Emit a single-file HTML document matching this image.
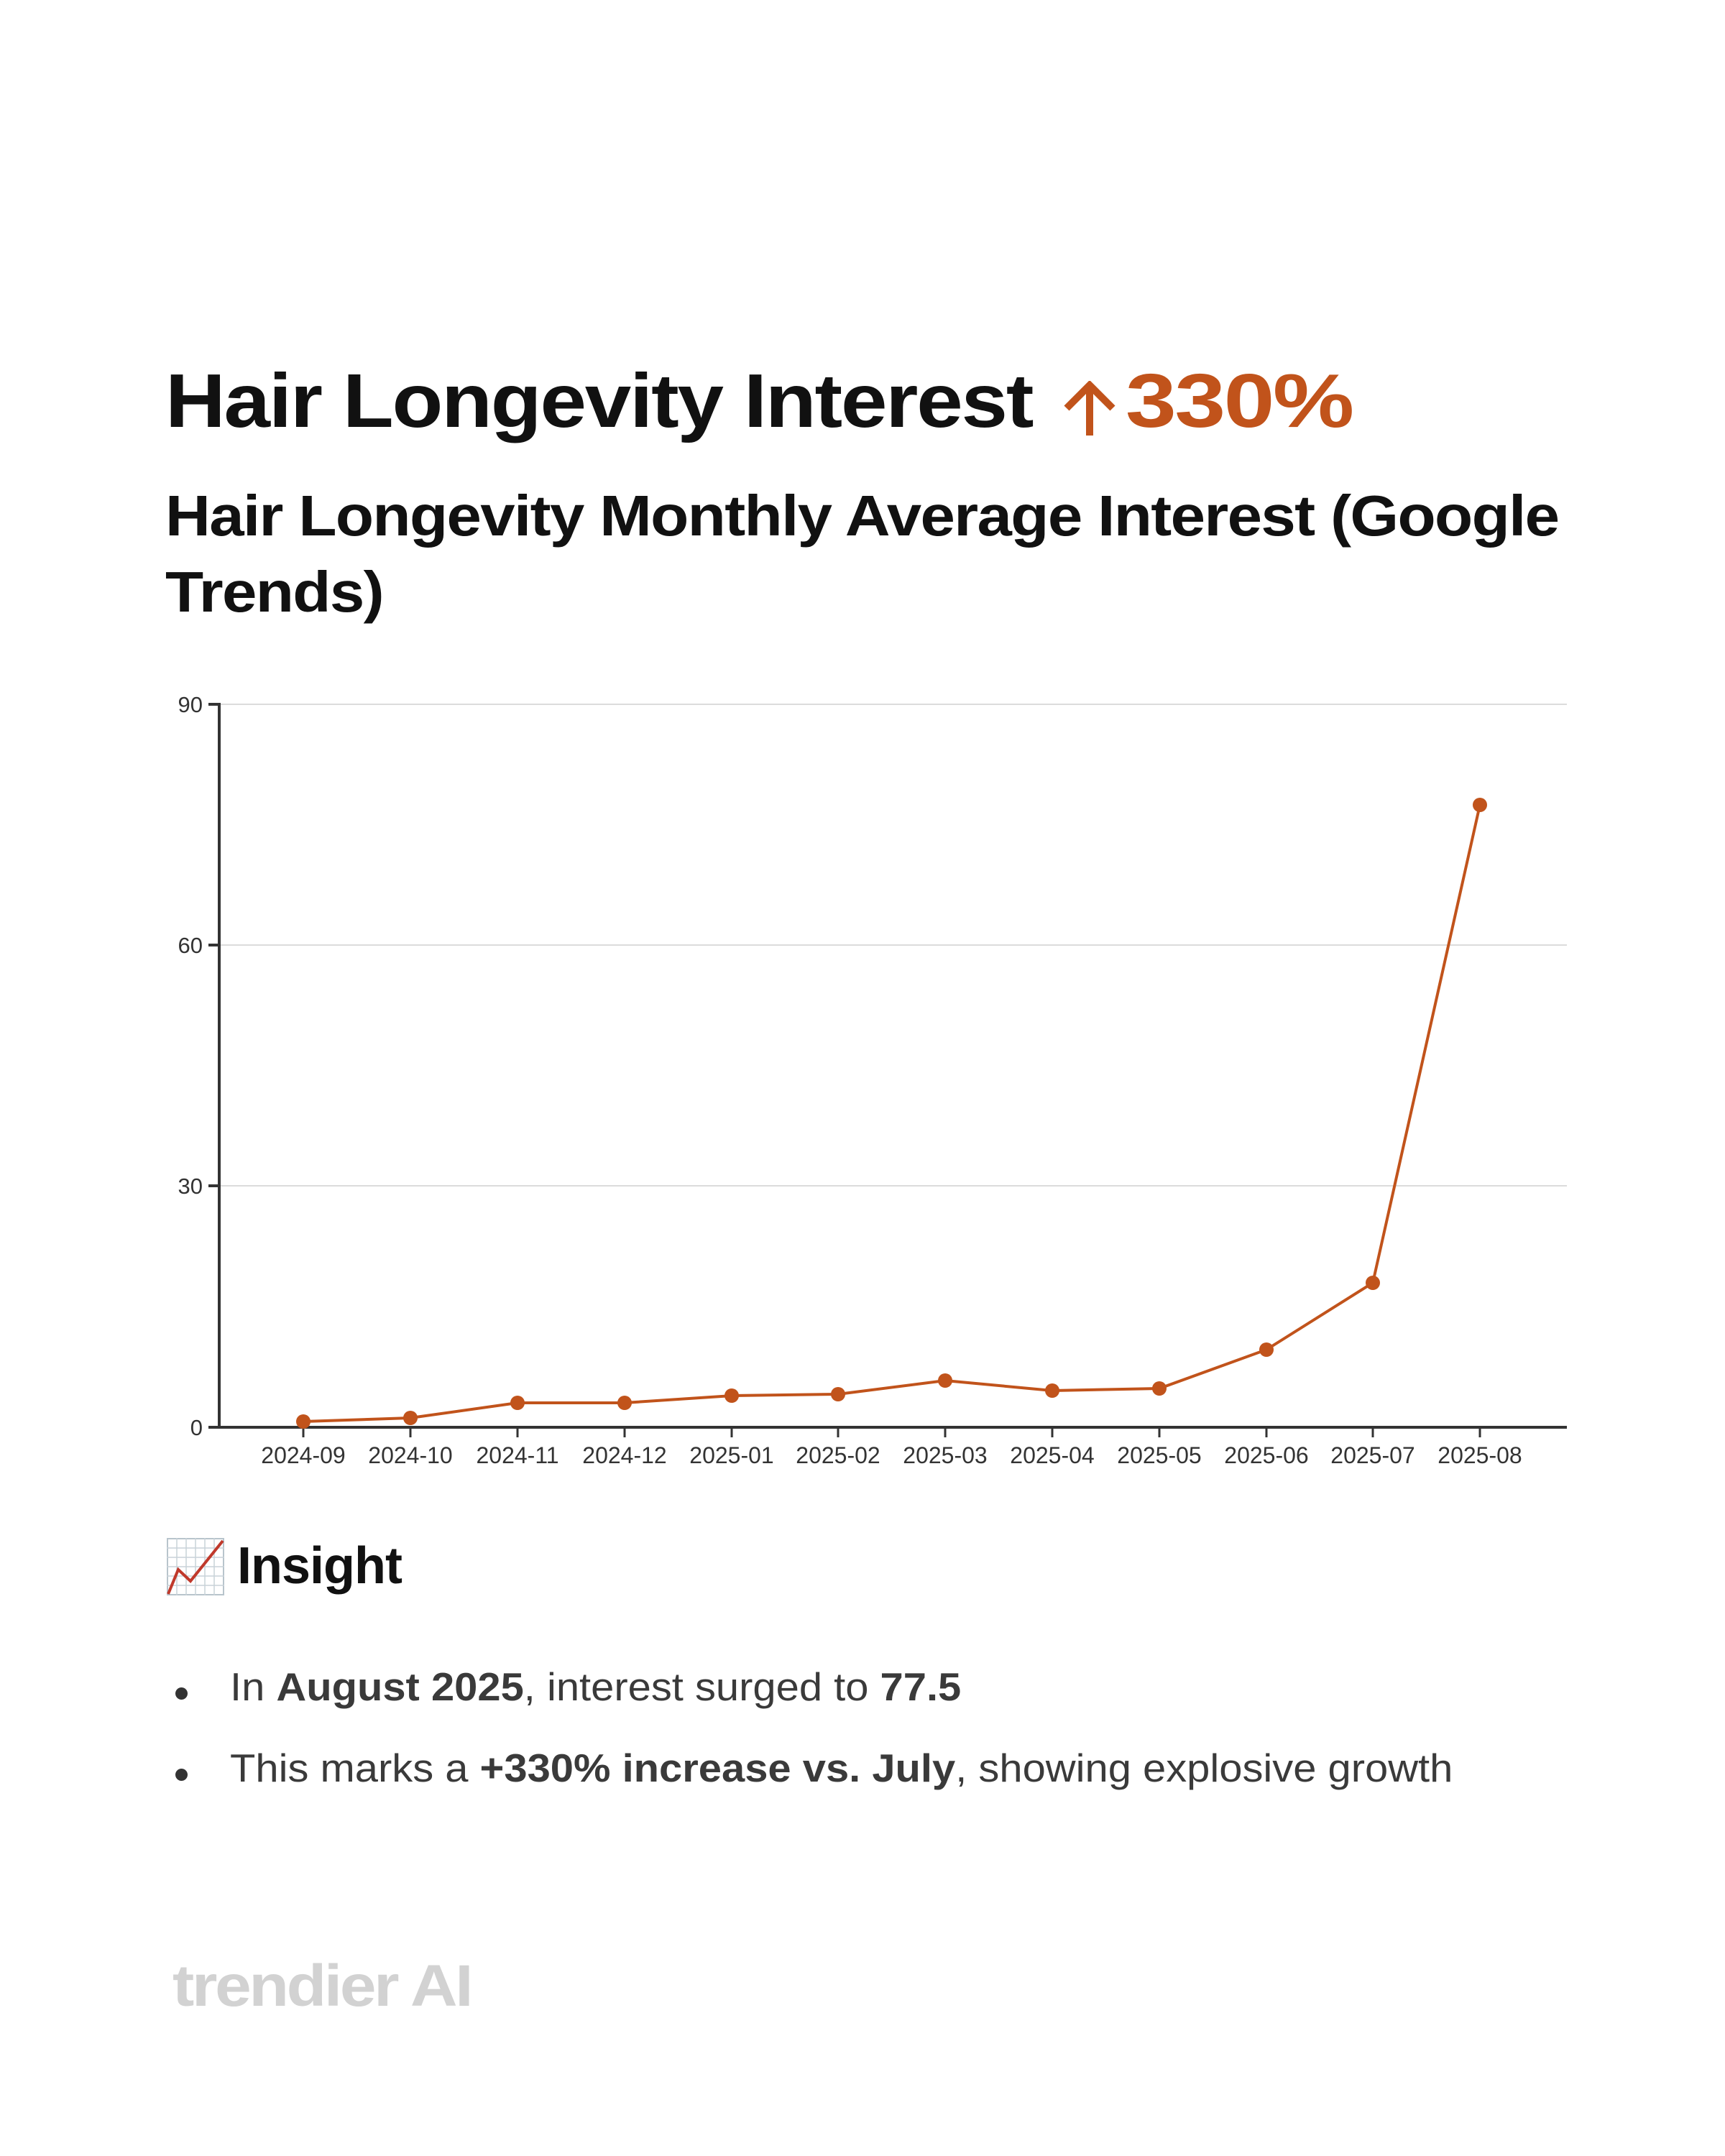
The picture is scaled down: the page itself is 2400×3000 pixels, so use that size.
<!DOCTYPE html>
<html><head><meta charset="utf-8"><style>
body{margin:0;width:2400px;height:3000px;background:#fff;position:relative;font-family:"Liberation Sans",sans-serif;overflow:hidden}
.a{position:absolute;white-space:nowrap;transform-origin:0 0}
</style></head><body>
<div class="a" style="left:230px;top:498px;font-size:106px;font-weight:bold;color:#111;letter-spacing:-2px;transform:scaleX(1.094)">Hair Longevity Interest</div>
<svg class="a" style="left:1474px;top:530px" width="84" height="80" viewBox="0 0 84 80"><path d="M42 6 L42 76 M10 38 L42 6 L74 38" fill="none" stroke="#c1531b" stroke-width="10" stroke-linejoin="miter"/></svg>
<div class="a" style="left:1566px;top:498px;font-size:106px;font-weight:bold;color:#c1531b;letter-spacing:-2px;transform:scaleX(1.2)">330%</div>
<div class="a" style="left:230px;top:665px;font-size:80px;font-weight:bold;color:#111;line-height:106px;letter-spacing:-1.5px;transform:scaleX(1.088)">Hair Longevity Monthly Average Interest (Google<br>Trends)</div>
<svg class="a" style="left:0;top:-5px" width="2400" height="2100" font-family="Liberation Sans, sans-serif">
<g stroke="#dcdcdc" stroke-width="2">
<line x1="305" y1="985" x2="2180" y2="985"/><line x1="305" y1="1320" x2="2180" y2="1320"/><line x1="305" y1="1655" x2="2180" y2="1655"/>
</g>
<g stroke="#333" stroke-width="4">
<line x1="305" y1="983" x2="305" y2="1993"/><line x1="303" y1="1991" x2="2180" y2="1991"/>
<line x1="290" y1="985" x2="305" y2="985"/><line x1="290" y1="1320" x2="305" y2="1320"/><line x1="290" y1="1655" x2="305" y2="1655"/><line x1="290" y1="1991" x2="305" y2="1991"/>
</g>
<g font-size="31" fill="#333" text-anchor="end">
<text x="282" y="996">90</text><text x="282" y="1331">60</text><text x="282" y="1666">30</text><text x="282" y="2002">0</text>
</g>
<g stroke="#333" stroke-width="3">
<line x1="422" y1="1991" x2="422" y2="2005"/><line x1="571" y1="1991" x2="571" y2="2005"/><line x1="720" y1="1991" x2="720" y2="2005"/><line x1="869" y1="1991" x2="869" y2="2005"/><line x1="1018" y1="1991" x2="1018" y2="2005"/><line x1="1166" y1="1991" x2="1166" y2="2005"/><line x1="1315" y1="1991" x2="1315" y2="2005"/><line x1="1464" y1="1991" x2="1464" y2="2005"/><line x1="1613" y1="1991" x2="1613" y2="2005"/><line x1="1762" y1="1991" x2="1762" y2="2005"/><line x1="1910" y1="1991" x2="1910" y2="2005"/><line x1="2059" y1="1991" x2="2059" y2="2005"/>
</g>
<g font-size="32" fill="#333" text-anchor="middle">
<text x="422" y="2041">2024-09</text><text x="571" y="2041">2024-10</text><text x="720" y="2041">2024-11</text><text x="869" y="2041">2024-12</text><text x="1018" y="2041">2025-01</text><text x="1166" y="2041">2025-02</text><text x="1315" y="2041">2025-03</text><text x="1464" y="2041">2025-04</text><text x="1613" y="2041">2025-05</text><text x="1762" y="2041">2025-06</text><text x="1910" y="2041">2025-07</text><text x="2059" y="2041">2025-08</text>
</g>
<polyline fill="none" stroke="#c1531b" stroke-width="4" points="422,1983 571,1978 720,1957 869,1957 1018,1947 1166,1945 1315,1926 1464,1940 1613,1937 1762,1883 1910,1790 2059,1125"/>
<g fill="#c1531b">
<circle cx="422" cy="1983" r="10"/><circle cx="571" cy="1978" r="10"/><circle cx="720" cy="1957" r="10"/><circle cx="869" cy="1957" r="10"/><circle cx="1018" cy="1947" r="10"/><circle cx="1166" cy="1945" r="10"/><circle cx="1315" cy="1926" r="10"/><circle cx="1464" cy="1940" r="10"/><circle cx="1613" cy="1937" r="10"/><circle cx="1762" cy="1883" r="10"/><circle cx="1910" cy="1790" r="10"/><circle cx="2059" cy="1125" r="10"/>
</g>
</svg>
<svg class="a" style="left:232px;top:2140px" width="80" height="80">
<rect x="1" y="1" width="78" height="78" fill="#fff" stroke="#b8c4cc" stroke-width="2"/>
<g stroke="#c8d2d8" stroke-width="1.5">
<line x1="14" y1="0" x2="14" y2="80"/><line x1="27" y1="0" x2="27" y2="80"/><line x1="40" y1="0" x2="40" y2="80"/><line x1="53" y1="0" x2="53" y2="80"/><line x1="66" y1="0" x2="66" y2="80"/>
<line y1="14" x1="0" y2="14" x2="80"/><line y1="27" x1="0" y2="27" x2="80"/><line y1="40" x1="0" y2="40" x2="80"/><line y1="53" x1="0" y2="53" x2="80"/><line y1="66" x1="0" y2="66" x2="80"/>
</g>
<polyline points="2,78 16,44 33,60 78,4" fill="none" stroke="#c0392b" stroke-width="4"/>
</svg>
<div class="a" style="left:330px;top:2138px;font-size:72px;font-weight:bold;color:#111;letter-spacing:-1px">Insight</div>
<div class="a" style="left:244px;top:2348px;width:17px;height:17px;border-radius:50%;background:#333"></div>
<div class="a" style="left:244px;top:2461px;width:17px;height:17px;border-radius:50%;background:#333"></div>
<div class="a" style="left:320px;top:2314px;font-size:55px;color:#3a3a3a;line-height:66px;transform:scaleX(1.053)">In <b>August 2025</b>, interest surged to <b>77.5</b></div>
<div class="a" style="left:320px;top:2427px;font-size:55px;color:#3a3a3a;line-height:66px;transform:scaleX(1.053)">This marks a <b>+330% increase vs. July</b>, showing explosive growth</div>
<div class="a" style="left:240px;top:2717px;font-size:82px;font-weight:bold;color:#d2d2d2;letter-spacing:-3px;transform:scaleX(1.11)">trendier AI</div>
</body></html>
